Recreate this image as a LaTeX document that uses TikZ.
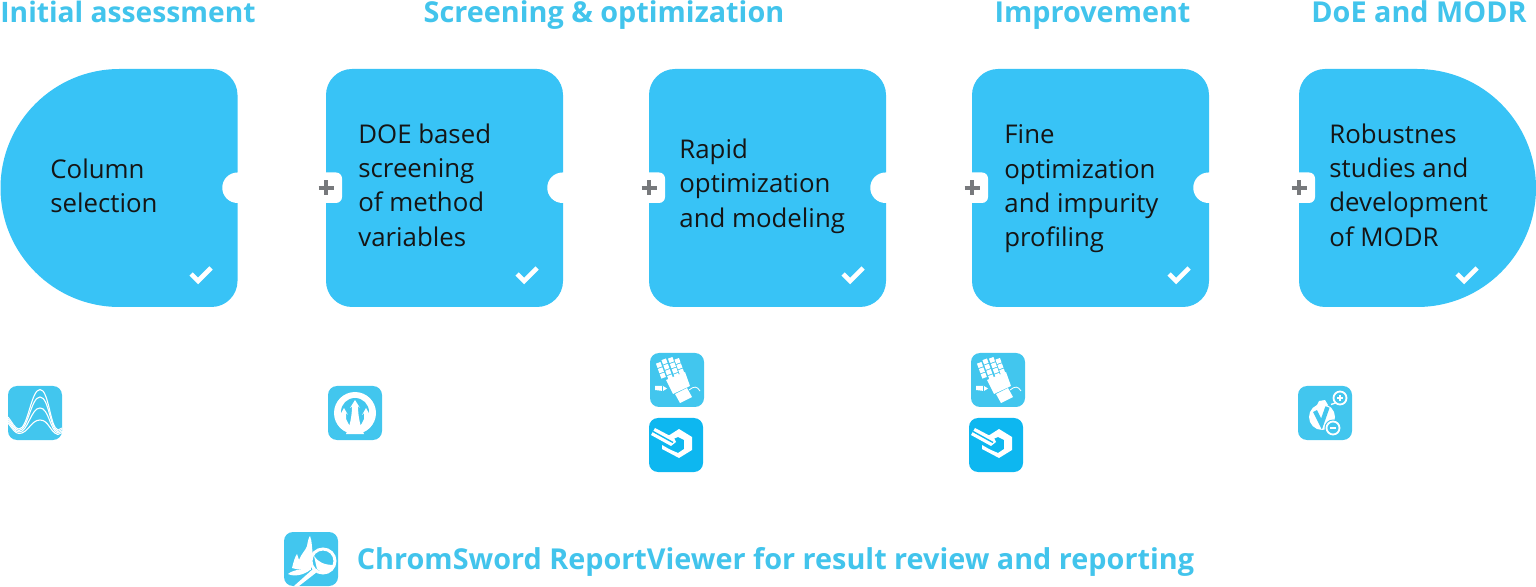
\documentclass[tikz,border=0pt]{standalone}
\usepackage{fontspec}
\setmainfont{Open Sans}
\definecolor{cardblue}{HTML}{38C3F6}
\definecolor{iconblue}{HTML}{42C6EE}
\definecolor{hexblue}{HTML}{0DB7F0}
\definecolor{headblue}{HTML}{42C4EC}
\definecolor{plusgrey}{HTML}{77797C}
\definecolor{inkblack}{HTML}{151515}
\tikzset{
  headtext/.style={font=\fontsize{14.4}{17}\bfseries\selectfont,text=headblue,inner sep=0pt,anchor=base},
  cardtext/.style={font=\fontsize{12.9}{17.2}\selectfont,text=inkblack,inner sep=0pt,align=left,anchor=west},
  plussign/.style={draw=plusgrey,line width=1.6pt},
  checksign/.style={draw=white,line width=2.3pt},
  glyph/.style={draw=white,line width=0.55pt},
}
% y grows downward: arc angles are read in the flipped frame
\newcommand{\cardshape}[3]{% x0, left radius, right radius
  \fill[cardblue] (#1+#2,69) -- (#1+237-#3,69)
    arc[start angle=-90,end angle=0,radius=#3]
    -- (#1+237,307-#3)
    arc[start angle=0,end angle=90,radius=#3]
    -- (#1+#2,307)
    arc[start angle=90,end angle=180,radius=#2]
    -- (#1,69+#2)
    arc[start angle=180,end angle=270,radius=#2] -- cycle;
}
\newcommand{\notch}[1]{%
  \fill[white] (#1+1.5,172.5) -- (#1-0.5,172.5) arc[start angle=270,end angle=90,radius=15.25] -- (#1+1.5,203) -- cycle;
}
\newcommand{\tab}[1]{%
  \fill[white] (#1-1,172.5) -- (#1+10,172.5) arc[start angle=-90,end angle=0,radius=6] -- (#1+16,197) arc[start angle=0,end angle=90,radius=6] -- (#1-1,203) -- cycle;
  \draw[plussign] (#1-7.5,188) -- (#1+7.5,188) (#1,180.5) -- (#1,195.5);
}
\newcommand{\tick}[2]{\draw[checksign] (#1-10,#2-1) -- (#1-3,#2+6) -- (#1+10,#2-7);}
\newcommand{\iconbox}[3]{\fill[#3] (#1+9,#2) -- (#1+45,#2) arc[start angle=-90,end angle=0,radius=9] -- (#1+54,#2+45) arc[start angle=0,end angle=90,radius=9] -- (#1+9,#2+54) arc[start angle=90,end angle=180,radius=9] -- (#1,#2+9) arc[start angle=180,end angle=270,radius=9] -- cycle;}
\newcommand{\waveicon}[2]{\iconbox{#1}{#2}{iconblue}
 \begin{scope}[shift={(#1,#2)}]
  \clip (0,0) rectangle (54,54);
  \foreach \p/\a/\b in {3.5/31/43,11/33/44.5,22/35/46,34/37/47.5}{
    \draw[glyph] (0,\a) .. controls (4,\a+5) and (7,\b) .. (11,\b) .. controls (20,\b) and (23,\p) .. (32,\p) .. controls (41,\p) and (42,\b-1) .. (50,\b+1) -- (54,\b-1);
  }
 \end{scope}}
\newcommand{\forkicon}[2]{\iconbox{#1}{#2}{iconblue}
 \begin{scope}[shift={(#1,#2)}]
  \fill[white] (27,27) circle[radius=21];
  \fill[iconblue] (27,26) circle[radius=14];
  \fill[white] (18,48) .. controls (22,40) and (24,30) .. (24,20) -- (22,22) -- (27,14) -- (32,22) -- (30,20) .. controls (30,30) and (32,40) .. (36,48) -- cycle;
  \fill[white] (13,27) -- (13,33) -- (16,39) -- (21,39) -- (18,33) -- (18,27) -- (20,29) -- (16,22) -- (12,29) -- cycle;
  \fill[white] (41,27) -- (41,33) -- (38,39) -- (33,39) -- (36,33) -- (36,27) -- (34,29) -- (38,22) -- (42,29) -- cycle;
 \end{scope}}
\newcommand{\handicon}[2]{\iconbox{#1}{#2}{iconblue}
 \begin{scope}[shift={(#1,#2)}]
  \foreach \sx/\sy/\n in {9/12/3,14.5/8.5/4,21/7/4,27.5/8/3}{
    \foreach \k in {1,...,\n}{
      \draw[white,line width=2.4pt] (\sx+\k*1.9-1.9-0.8,\sy+\k*5.3-5.3-2.2) -- (\sx+\k*1.9-1.9+0.8,\sy+\k*5.3-5.3+2.2);
    }
  }
  \fill[white] (16,27) -- (35,19) -- (40,33) -- (23,41) -- cycle;
  \fill[white] (25,41) -- (37,35) -- (42,44) -- (30,50) -- cycle;
  \fill[white] (5,33) -- (13,33) -- (17,35.5) -- (13,38) -- (5,37) -- cycle;
  \draw[iconblue,line width=0.35pt] (12,33) -- (12,38);
  \draw[glyph,line width=0.4pt] (39,37) .. controls (44,33) and (47,33) .. (50,38);
 \end{scope}}
\newcommand{\hexicon}[2]{\iconbox{#1}{#2}{hexblue}
 \begin{scope}[shift={(#1,#2)}]
  \fill[white] (30,11) -- (43,19) -- (43,32) -- (30,40) -- (13,31) -- (13,27) -- (20,31) -- (22,32) -- (29,35) -- (35,31) -- (35,22) -- (29,19) -- (24,21) -- (19,18) -- cycle;
  \fill[white] (6,10) -- (25,20) -- (27,24) -- (22,28) -- (2,17) -- cycle;
  \draw[hexblue,line width=0.7pt] (4,13.5) -- (24,24.5);
 \end{scope}}
\newcommand{\checkicon}[2]{\iconbox{#1}{#2}{iconblue}
 \begin{scope}[shift={(#1,#2)}]
  \fill[white] (24,31) circle[radius=13];
  \fill[white] (19,19) -- (21,15) -- (27,14) -- (30,19) -- cycle;
  \draw[iconblue,line width=2.2pt] (17,25) -- (23.5,38) -- (29.5,21);
  \fill[iconblue] (35,42) circle[radius=8.5];
  \draw[white,line width=0.9pt] (35,42) circle[radius=6.5];
  \draw[white,line width=1pt] (32,42) -- (38,42);
  \draw[white,line width=0.9pt] (42,12) circle[radius=6.5];
  \draw[white,line width=1pt] (39,12) -- (45,12) (42,9) -- (42,15);
  \draw[white,line width=0.7pt] (37.5,17) -- (33,18.5);
 \end{scope}}
\newcommand{\reporticon}[2]{\iconbox{#1}{#2}{iconblue}
 \begin{scope}[shift={(#1,#2)}]
  \clip (0,0) rectangle (54,54);
  \fill[white] (8,36) .. controls (10,28) and (11,25) .. (13,22) -- (15,28) .. controls (17,22) and (22,18) .. (23,14) .. controls (24,8) and (25,5) .. (26,4) .. controls (28,8) and (28,18) .. (29,24) .. controls (28,30) and (26,36) .. (27,38) .. controls (20,38) and (14,38) .. (8,36) -- cycle;
  \fill[white] (4,42) .. controls (10,37) and (20,37) .. (26,38) .. controls (20,43) and (10,45) .. (4,42) -- cycle;
  \fill[iconblue] (39,29) circle[radius=12];
  \fill[white] (30,24) .. controls (34,30) and (40,33) .. (50,33) .. controls (48,40) and (40,43) .. (33,37) -- cycle;
  \draw[white,line width=1.5pt] (39,29) circle[radius=12];
  \fill[white] (29,37) -- (33,40) -- (15,54) -- (10,54) -- cycle;
 \end{scope}}
\begin{document}
\begin{tikzpicture}[x=0.5pt,y=-0.5pt]
\useasboundingbox (0,0) rectangle (1536,587);
\node[headtext,font=\fontsize{14.1}{17}\bfseries\selectfont] (h1) at (128,23) {Initial assessment};
\node[headtext] (h2) at (604,23) {Screening \& optimization};
\node[headtext] (h3) at (1092.5,23) {Improvement};
\node[headtext] (h4) at (1419,23) {DoE and MODR};
\cardshape{0.5}{119}{26}
\cardshape{326}{26}{26}
\cardshape{649}{26}{26}
\cardshape{972}{26}{26}
\cardshape{1299}{26}{119}
\notch{238}\notch{563}\notch{886}\notch{1209}
\tab{326}\tab{649}\tab{972}\tab{1299}
\tick{201}{275}\tick{527}{275}\tick{853}{275}\tick{1179}{275}\tick{1467}{275}
\node[cardtext] (c1) at (50,186) {Column\\selection};
\node[cardtext] (c2) at (358,185) {DOE based\\screening\\of method\\variables};
\node[cardtext] (c3) at (679,186) {Rapid\\optimization\\and modeling};
\node[cardtext] (c4) at (1004,189) {Fine\\optimization\\and impurity\\profiling};
\node[cardtext] (c5) at (1329,185) {Robustnes\\studies and\\development\\of MODR};
\waveicon{8}{386}
\forkicon{328}{386}
\handicon{650}{353}
\hexicon{649}{418}
\handicon{971}{353}
\hexicon{969}{418}
\checkicon{1298}{386}
\reporticon{284}{532}
\node[headtext] (rv) at (775.5,569) {ChromSword ReportViewer for result review and reporting};
\end{tikzpicture}
\end{document}
